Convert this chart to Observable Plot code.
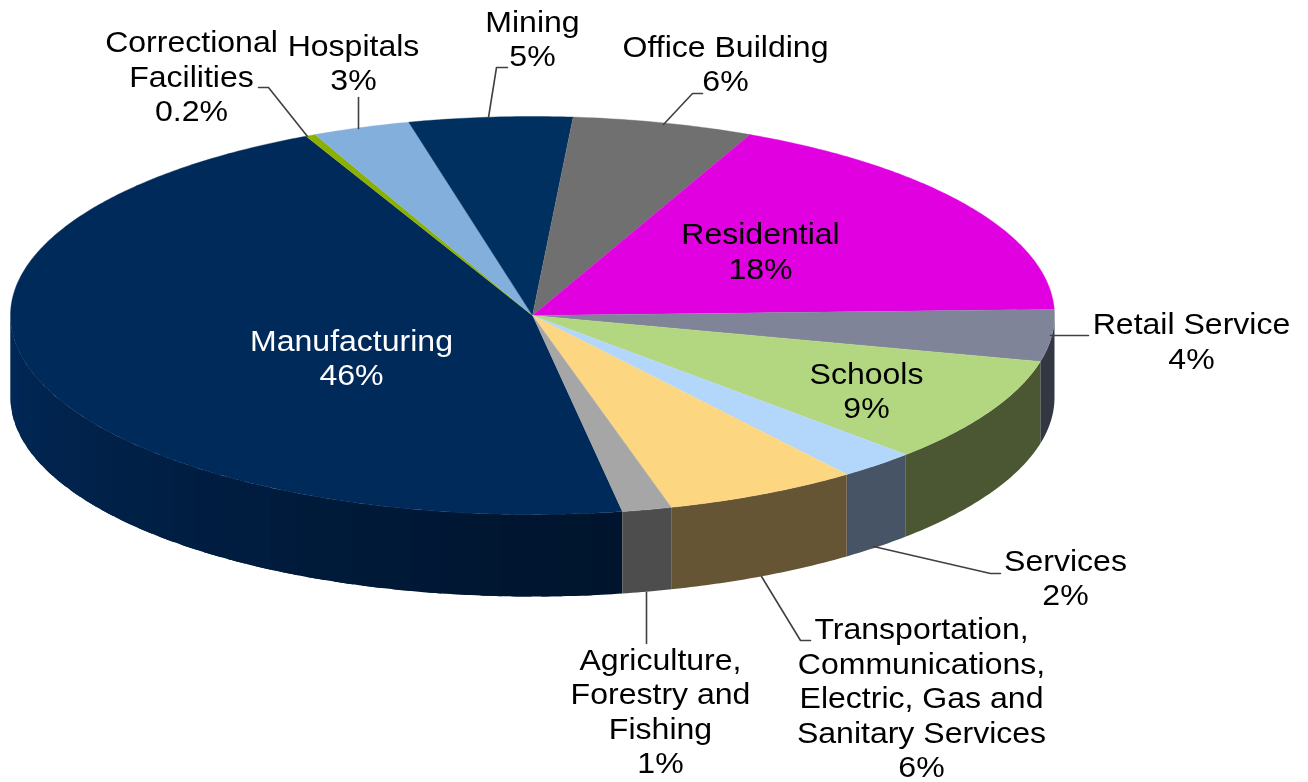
<!DOCTYPE html>
<html>
<head>
<meta charset="utf-8">
<style>html,body{margin:0;padding:0;background:#fff}svg{display:block}</style>
<script src="https://cdn.jsdelivr.net/npm/d3@7"></script>
<script src="https://cdn.jsdelivr.net/npm/@observablehq/plot@0.6"></script>
</head>
<body>
<div id="chart"></div>
<script>
const categories = ["Manufacturing","Correctional Facilities","Hospitals","Mining","Office Building","Residential","Retail Service","Schools","Services","Transportation, Communications, Electric, Gas and Sanitary Services","Agriculture, Forestry and Fishing"];
// slice sizes
const shares = [45.6,0.3,3.03,5.05,5.6,17.67,4.2,8.6,2.4,6,1.53];
const percentLabels = ["46%","0.2%","3%","5%","6%","18%","4%","9%","2%","6%","1%"];
const labelLines = ["Manufacturing","Correctional\nFacilities","Hospitals","Mining","Office Building","Residential","Retail Service","Schools","Services","Transportation,\nCommunications,\nElectric, Gas and\nSanitary Services","Agriculture,\nForestry and\nFishing"];
const topColors = ["#002a5a","#8cb000","#82afdc","#00305f","#707070","#e000e0","#7f8499","#b3d780","#b3d6fb","#fcd681","#a6a6a6"];
const sideColors = ["#012a5c","#4a5a00","#455a70","#001a33","#3a3a3a","#700070","#333742","#4b5732","#465466","#665534","#4d4d4d"];
const labelColors = ["#fff","#000","#000","#000","#000","#000","#000","#000","#000","#000","#000"];

// layout, in the page's scale units
const pie = {cx:532, cy:315, rx:522, ry:199, depth:82, start:170.1};
const labelX = [351,191,353,532,725,760,1191,866,1065,921,660];
const labelY = [356.5,75,61.5,37.5,62.5,250,340,389.5,576.5,696.5,710];
const leaders = [
  {name:"Correctional", path:[[307,136],[268,87],[258,87]]},
  {name:"Hospitals", path:[[358,128],[358,97]]},
  {name:"Mining", path:[[488,117],[496,67],[507,67]]},
  {name:"Office", path:[[663,124],[692,93],[702,93]]},
  {name:"Retail", path:[[1050,335],[1088,335]]},
  {name:"Services", path:[[873,546],[990,573],[1000,573]]},
  {name:"Transportation", path:[[761,576],[800,640],[810,640]]},
  {name:"Agriculture", path:[[646,592],[646,643]]}
];

const toPoint = (t, drop=0) => [pie.cx + pie.rx*Math.sin(t), pie.cy - pie.ry*Math.cos(t) + drop];
const arcs = d3.pie().sort(null).value(d => d)
  .startAngle(pie.start*Math.PI/180).endAngle(pie.start*Math.PI/180 + 2*Math.PI)(shares);

const topPolys = [], sidePolys = [];
arcs.forEach((a,i) => {
  const steps = Math.max(3, Math.ceil((a.endAngle-a.startAngle)/0.01));
  const key = "top"+i;
  topPolys.push({key, c:topColors[i], x:pie.cx, y:pie.cy});
  d3.range(steps+1).forEach(k => {
    const [x,y] = toPoint(a.startAngle + (a.endAngle-a.startAngle)*k/steps);
    topPolys.push({key, c:topColors[i], x, y});
  });
  // the front wall is what lies between a quarter and three quarters of a turn
  [0,2*Math.PI].forEach(shift => {
    const t0 = Math.max(a.startAngle-shift, Math.PI/2), t1 = Math.min(a.endAngle-shift, 3*Math.PI/2);
    if (t1 <= t0) return;
    const bands = i === 0 ? 30 : 1;
    d3.range(bands).forEach(b => {
      const u0 = t0+(t1-t0)*b/bands, u1 = Math.min(t1, t0+(t1-t0)*(b+1)/bands + 0.04);
      const tone = i === 0 ? d3.interpolateRgb("#00142c","#01295a")(Math.pow((b+.5)/bands,1.1)) : sideColors[i];
      const n = Math.max(2, Math.ceil((u1-u0)/0.01));
      const k = `side${i}-${shift}-${b}`;
      const pts = d3.range(n+1).map(j => toPoint(u0+(u1-u0)*j/n));
      const low = d3.range(n,-1,-1).map(j => toPoint(u0+(u1-u0)*j/n, pie.depth));
      [...pts,...low].forEach(([x,y]) => sidePolys.push({key:k, c:tone, x, y}));
    });
  });
});

const leaderRows = leaders.flatMap(l => l.path.map(([x,y]) => ({name:l.name,x,y})));
const labels = categories.map((name,i) => ({
  name, text:labelLines[i]+"\n"+percentLabels[i], x:labelX[i], y:labelY[i], c:labelColors[i]
}));

const plot = Plot.plot({
  width:1308, height:782, margin:0,
  x:{domain:[0,1308], range:[0,1308], axis:null},
  y:{domain:[0,782], range:[0,782], axis:null},
  color:{type:"identity"},
  style:{background:"#fff", fontFamily:"'Liberation Sans',Arial,sans-serif", filter:"blur(0.45px)"},
  marks:[
    Plot.line(sidePolys,{x:"x",y:"y",z:"key",fill:"c",stroke:"none",curve:"linear"}),
    Plot.line(topPolys,{x:"x",y:"y",z:"key",fill:"c",stroke:"c",strokeWidth:0.4,curve:"linear"}),
    Plot.line(leaderRows,{x:"x",y:"y",z:"name",stroke:"#404040",strokeWidth:1.6,curve:"linear"}),
    Plot.text(labels,{x:"x",y:"y",text:"text",fill:"c",fontSize:29,lineHeight:1.19,textAnchor:"middle"})
  ]
});
// the reference's type is stretched sideways
plot.querySelectorAll("text").forEach(t => {
  const tr = t.getAttribute("transform");
  if (tr) t.setAttribute("transform", tr + " scale(1.105,1)");
});
document.getElementById("chart").appendChild(plot);
</script>
</body>
</html>
